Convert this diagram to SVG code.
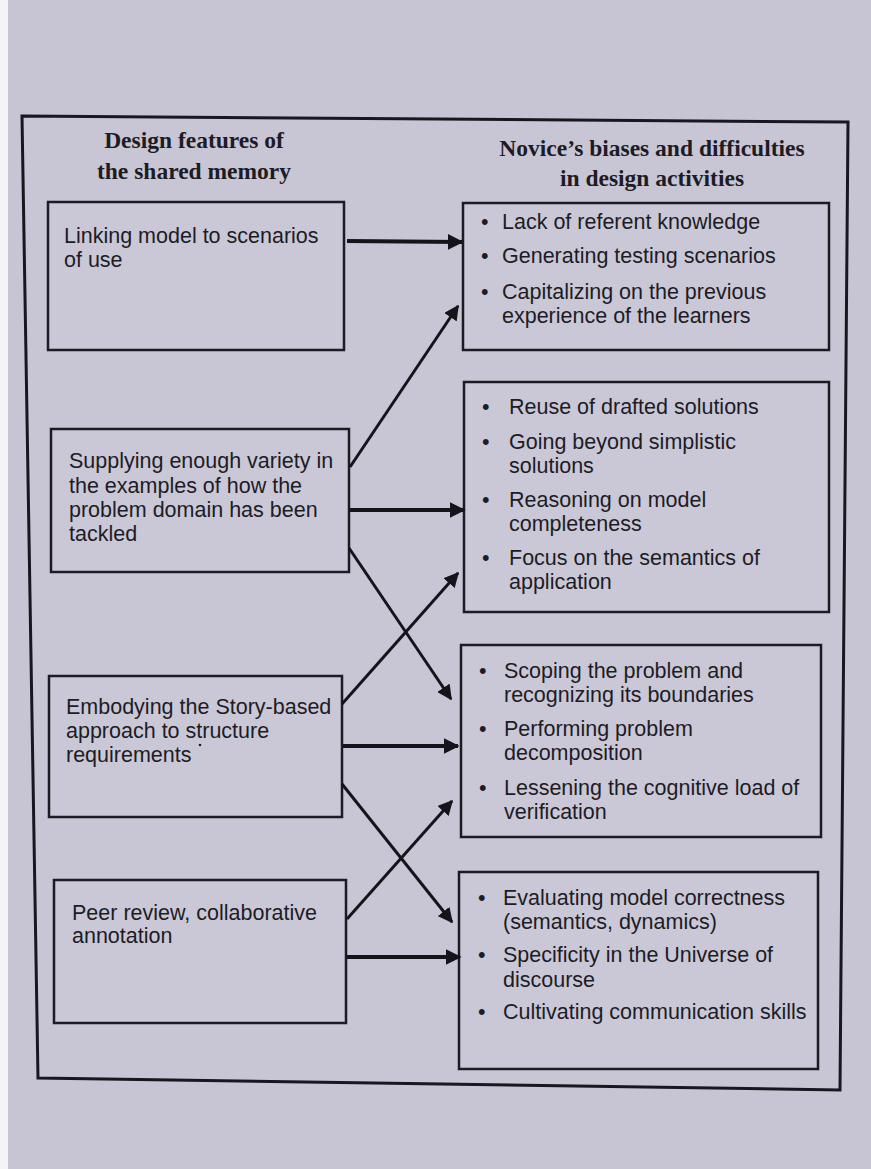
<svg xmlns="http://www.w3.org/2000/svg" width="871" height="1169" viewBox="0 0 871 1169">
<defs>
<style>
.box{fill:#cac8d6;stroke:#1c1b24;stroke-width:2.5}
.t{font-family:"Liberation Sans",Arial,sans-serif;font-size:21.5px;fill:#1d1c25}
.h{font-family:"Liberation Serif","Times New Roman",serif;font-size:23.5px;font-weight:bold;fill:#1d1c25;text-anchor:middle}
.c{stroke:#15141b;fill:none;stroke-width:3}
.ch{stroke:#15141b;fill:none;stroke-width:4}
</style>
<marker id="ah" viewBox="0 0 10 10" refX="9" refY="5" markerWidth="4" markerHeight="4" orient="auto" markerUnits="strokeWidth">
<path d="M0,0 L10,5 L0,10 z" fill="#15141b"/>
</marker>
<marker id="ah2" viewBox="0 0 10 10" refX="9" refY="5" markerWidth="5" markerHeight="5" orient="auto" markerUnits="strokeWidth">
<path d="M0,0 L10,5 L0,10 z" fill="#15141b"/>
</marker>
</defs>
<rect x="0" y="0" width="871" height="1169" fill="#c7c5d4"/>
<rect x="0" y="0" width="8" height="1169" fill="#f4f4f6"/>
<polygon points="22,116 848,122 840,1090 38,1078" fill="#c8c6d4" stroke="#18171f" stroke-width="3"/>
<g id="headings">
<text class="h" x="194" y="148">Design features of</text>
<text class="h" x="194" y="179">the shared memory</text>
<text class="h" x="652" y="156">Novice’s biases and difficulties</text>
<text class="h" x="652" y="186">in design activities</text>
</g>
<g id="L1">
<rect class="box" x="48" y="202" width="296" height="148"/>
<text class="t" x="64" y="243">Linking model to scenarios</text>
<text class="t" x="64" y="267">of use</text>
</g>
<g id="L2">
<rect class="box" x="51" y="429" width="298" height="143"/>
<text class="t" x="69" y="468">Supplying enough variety in</text>
<text class="t" x="69" y="493">the examples of how the</text>
<text class="t" x="69" y="517">problem domain has been</text>
<text class="t" x="69" y="541">tackled</text>
</g>
<g id="L3">
<rect class="box" x="49" y="676" width="293" height="141"/>
<text class="t" x="66" y="714">Embodying the Story-based</text>
<text class="t" x="66" y="738">approach to structure</text>
<text class="t" x="66" y="762">requirements</text>
<circle cx="200" cy="745" r="1.3" fill="#1d1c25"/>
</g>
<g id="L4">
<rect class="box" x="54" y="880" width="292" height="143"/>
<text class="t" x="72" y="920">Peer review, collaborative</text>
<text class="t" x="72" y="943">annotation</text>
</g>
<g id="R1">
<rect class="box" x="463" y="203" width="366" height="147"/>
<text class="t" x="481" y="229">•</text><text class="t" x="502" y="229">Lack of referent knowledge</text>
<text class="t" x="481" y="263">•</text><text class="t" x="502" y="263">Generating testing scenarios</text>
<text class="t" x="481" y="299">•</text><text class="t" x="502" y="299">Capitalizing on the previous</text>
<text class="t" x="502" y="323">experience of the learners</text>
</g>
<g id="R2">
<rect class="box" x="464" y="382" width="365" height="230"/>
<text class="t" x="482" y="414">•</text><text class="t" x="509" y="414">Reuse of drafted solutions</text>
<text class="t" x="482" y="449">•</text><text class="t" x="509" y="449">Going beyond simplistic</text>
<text class="t" x="509" y="473">solutions</text>
<text class="t" x="482" y="507">•</text><text class="t" x="509" y="507">Reasoning on model</text>
<text class="t" x="509" y="531">completeness</text>
<text class="t" x="482" y="565">•</text><text class="t" x="509" y="565">Focus on the semantics of</text>
<text class="t" x="509" y="589">application</text>
</g>
<g id="R3">
<rect class="box" x="461" y="645" width="360" height="192"/>
<text class="t" x="479" y="678">•</text><text class="t" x="504" y="678">Scoping the problem and</text>
<text class="t" x="504" y="702">recognizing its boundaries</text>
<text class="t" x="479" y="736">•</text><text class="t" x="504" y="736">Performing problem</text>
<text class="t" x="504" y="760">decomposition</text>
<text class="t" x="479" y="795">•</text><text class="t" x="504" y="795">Lessening the cognitive load of</text>
<text class="t" x="504" y="819">verification</text>
</g>
<g id="R4">
<rect class="box" x="459" y="872" width="359" height="197"/>
<text class="t" x="478" y="905">•</text><text class="t" x="503" y="905">Evaluating model correctness</text>
<text class="t" x="503" y="929">(semantics, dynamics)</text>
<text class="t" x="478" y="962">•</text><text class="t" x="503" y="962">Specificity in the Universe of</text>
<text class="t" x="503" y="987">discourse</text>
<text class="t" x="478" y="1019">•</text><text class="t" x="503" y="1019">Cultivating communication skills</text>
</g>
<g id="connectors">
<line class="ch" x1="347" y1="241" x2="462" y2="242" marker-end="url(#ah)"/>
<line class="c" x1="350" y1="467" x2="458" y2="306" marker-end="url(#ah2)"/>
<line class="ch" x1="349" y1="510" x2="464" y2="510" marker-end="url(#ah)"/>
<line class="c" x1="349" y1="548" x2="451" y2="699" marker-end="url(#ah2)"/>
<line class="c" x1="342" y1="704" x2="458" y2="573" marker-end="url(#ah2)"/>
<line class="ch" x1="343" y1="746" x2="458" y2="746" marker-end="url(#ah)"/>
<line class="c" x1="342" y1="784" x2="452" y2="922" marker-end="url(#ah2)"/>
<line class="c" x1="347" y1="919" x2="452" y2="801" marker-end="url(#ah2)"/>
<line class="ch" x1="347" y1="957" x2="460" y2="957" marker-end="url(#ah)"/>
</g>
</svg>
